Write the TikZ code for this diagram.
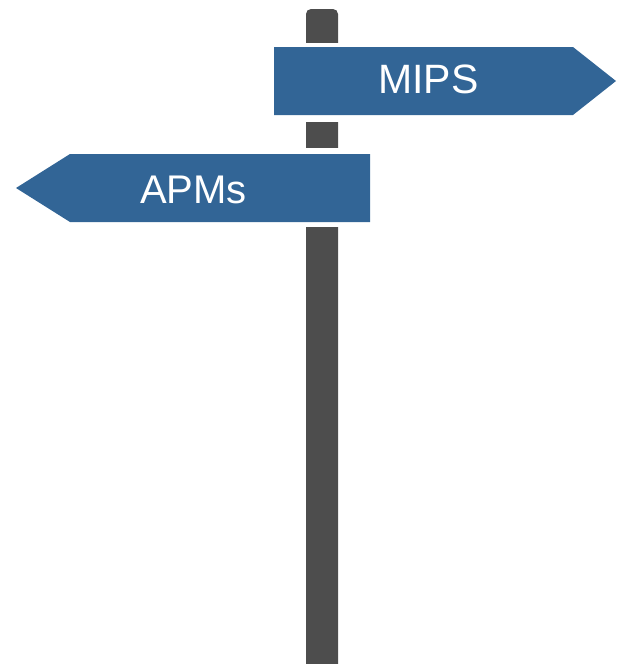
\documentclass[tikz,border=0pt]{standalone}
\usepackage{fontspec}
\setmainfont{Liberation Sans}
\definecolor{signblue}{RGB}{50,101,150}
\definecolor{polegray}{RGB}{77,77,77}
\tikzset{
  signshape/.style={fill=signblue, draw=none},
  signtext/.style={text=white, inner sep=0pt, anchor=base},
}
\begin{document}
\begin{tikzpicture}[x=1pt,y=-1pt]
\useasboundingbox (0,0) rectangle (616,664);
% pole
\clip (0,0) rectangle (616,664);
\fill[polegray] (306,680) -- (306,14) [rounded corners=5pt] -- (306,9) -- (338,9) [sharp corners] -- (338,14) -- (338,680) -- cycle;
% white gaps
\fill[white] (300,43) rectangle (344,122);
\fill[white] (300,148) rectangle (344,227);
% MIPS sign
\fill[signshape] (274,47) -- (573,47) -- (616,81) -- (573,115) -- (274,115) -- cycle;
\node[signtext, font=\fontsize{41}{41}\selectfont] (mips) at (428.5,93) {MIPS};
% APMs sign
\fill[signshape] (370,154) -- (70,154) -- (16,188) -- (70,222) -- (370,222) -- cycle;
\node[signtext, font=\fontsize{40}{40}\selectfont] (apms) at (193.5,203) {APMs};
\end{tikzpicture}
\end{document}
